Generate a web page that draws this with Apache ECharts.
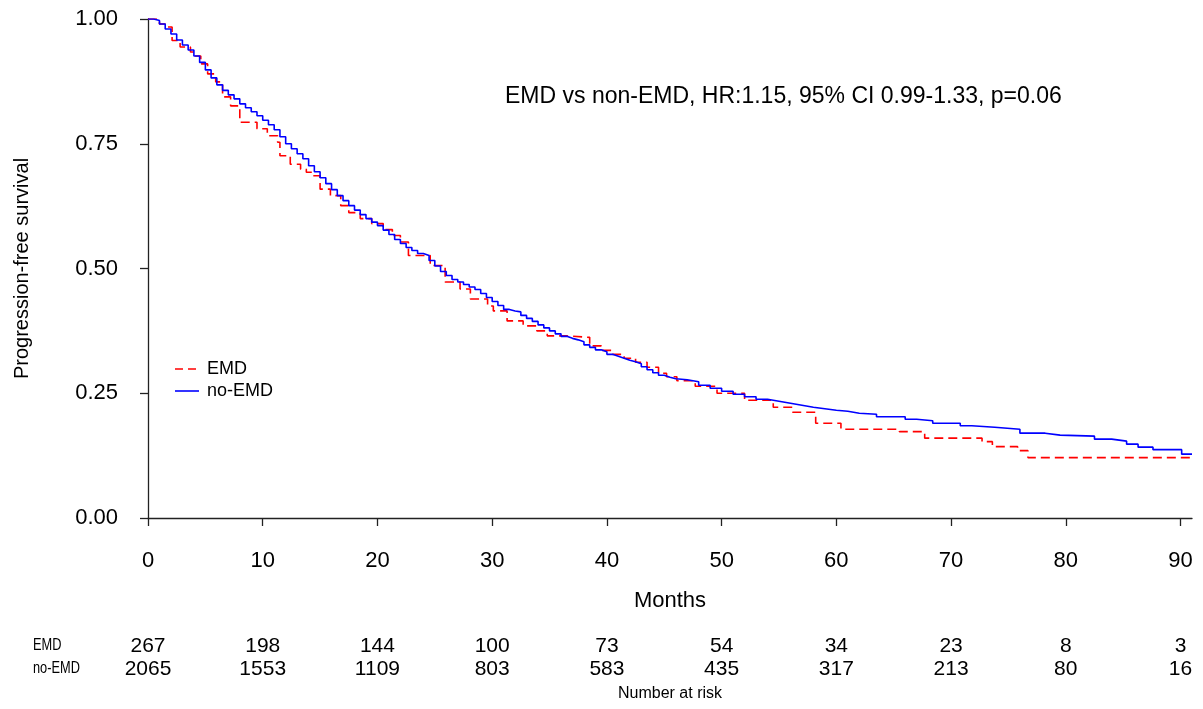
<!DOCTYPE html>
<html>
<head>
<meta charset="utf-8">
<script src="https://cdn.jsdelivr.net/npm/echarts@6/dist/echarts.min.js"></script>
<style>
html, body { margin: 0; padding: 0; background: #fff; }
#chart { width: 1203px; height: 709px; }
</style>
</head>
<body>
<div id="chart"></div>
<script>
// step points (months, survival)
var emdTime = [0, 1.0, 1.5, 2.1, 2.8, 3.7, 4.1, 4.6, 5.2, 5.9, 6.5, 7.2, 8.0, 9.5, 10.4, 11.3, 11.5, 12.4,
    13.3, 13.8, 14.4, 15.0, 15.9, 16.8, 17.5, 18.5, 19.5, 20.5, 21.3, 22.0, 22.7, 24.6, 25.9, 27.2,
    28.1, 29.6, 30.1, 31.3, 32.7, 33.9, 34.8, 36.5, 38.5, 39.5, 40.5, 41.5, 42.5, 43.5, 44.5, 45.2,
    46.1, 47.7, 49.6, 52.0, 54.5, 56.2, 58.2, 60.4, 65.5, 67.7, 72.7, 73.6, 75.8, 76.7, 91];
var emdSurv = [1.0, 0.99, 0.984, 0.957, 0.944, 0.934, 0.926, 0.91, 0.89, 0.874, 0.844, 0.826, 0.793, 0.78,
    0.766, 0.753, 0.726, 0.709, 0.699, 0.693, 0.686, 0.659, 0.646, 0.626, 0.612, 0.6, 0.59, 0.578,
    0.566, 0.553, 0.526, 0.506, 0.473, 0.459, 0.439, 0.425, 0.415, 0.395, 0.385, 0.375, 0.365, 0.362,
    0.345, 0.336, 0.328, 0.32, 0.312, 0.302, 0.29, 0.283, 0.275, 0.264, 0.25, 0.236, 0.222, 0.212,
    0.19, 0.178, 0.173, 0.16, 0.153, 0.143, 0.135, 0.121, 0.121];

var noEmdTime = [0, 0.5, 1.0, 1.5, 2.0, 2.5, 3.0, 3.5, 4.0, 4.5, 5.0, 5.5, 6.0, 6.5, 7.0, 7.5, 8.0, 8.5,
    9.0, 9.5, 10.0, 10.5, 11.0, 11.5, 12.0, 12.5, 13.0, 13.5, 14.0, 14.5, 15.0, 15.5, 16.0, 16.5,
    17.0, 17.5, 18.0, 18.5, 19.0, 19.5, 20.0, 20.5, 21.0, 21.5, 22.0, 22.5, 23.0, 23.5, 24.0, 24.5,
    25.0, 25.5, 26.0, 26.5, 27.0, 27.5, 28.0, 28.5, 29.0, 29.5, 30.0, 30.5, 31.0, 31.5, 32.0, 32.5,
    33.0, 33.5, 34.0, 34.5, 35.0, 35.5, 36.0, 36.5, 37.0, 37.5, 38.0, 38.5, 39.0, 39.5, 40.0, 40.5,
    41.0, 41.5, 42.0, 42.5, 43.0, 43.5, 44.0, 44.5, 45.0, 45.5, 46, 47, 48, 49, 50, 51, 52, 53, 54,
    55, 56, 57, 58, 59, 60, 61, 62, 63.5, 66, 67, 68.4, 70.8, 71.8, 73.8, 76, 78.2, 79.5, 82.5, 84,
    85.3, 86.3, 87.6, 90.1, 91];
var noEmdSurv = [1.0, 0.997, 0.99, 0.98, 0.97, 0.958, 0.948, 0.938, 0.926, 0.913, 0.898, 0.882, 0.868,
    0.857, 0.848, 0.84, 0.83, 0.822, 0.814, 0.806, 0.797, 0.788, 0.778, 0.764, 0.75, 0.74, 0.73, 0.72,
    0.706, 0.694, 0.682, 0.67, 0.658, 0.646, 0.636, 0.626, 0.617, 0.608, 0.6, 0.593, 0.586, 0.577,
    0.568, 0.558, 0.55, 0.542, 0.536, 0.53, 0.526, 0.516, 0.505, 0.494, 0.486, 0.478, 0.473, 0.468,
    0.463, 0.458, 0.45, 0.442, 0.434, 0.426, 0.418, 0.415, 0.413, 0.406, 0.4, 0.394, 0.387, 0.381,
    0.375, 0.369, 0.364, 0.36, 0.357, 0.353, 0.347, 0.342, 0.337, 0.333, 0.328, 0.324, 0.32, 0.316,
    0.313, 0.309, 0.303, 0.297, 0.291, 0.286, 0.282, 0.279, 0.277, 0.273, 0.266, 0.26, 0.254, 0.248,
    0.243, 0.238, 0.234, 0.23, 0.226, 0.222, 0.219, 0.216, 0.214, 0.21, 0.208, 0.203, 0.198, 0.195,
    0.19, 0.185, 0.182, 0.178, 0.17, 0.166, 0.164, 0.158, 0.154, 0.148, 0.142, 0.137, 0.128, 0.128];

var monthTicks = [0, 10, 20, 30, 40, 50, 60, 70, 80, 90];
var emdRisk = [267, 198, 144, 100, 73, 54, 34, 23, 8, 3];
var noEmdRisk = [2065, 1553, 1109, 803, 583, 435, 317, 213, 80, 16];

function pairs(t, s) {
    return t.map(function (v, i) { return [v, s[i]]; });
}

var font = '"Liberation Sans", Arial, sans-serif';
var red = '#ff0000';
var blue = '#0000ff';
var myChart = echarts.init(document.getElementById('chart'));

var option = {
    animation: false,
    textStyle: { fontFamily: font, color: '#000' },
    grid: { left: 148, right: 11, top: 19, bottom: 191 },
    xAxis: {
        type: 'value',
        min: 0,
        max: 91,
        name: 'Months',
        nameLocation: 'middle',
        nameGap: 72,
        nameTextStyle: { fontSize: 22, color: '#000' },
        axisLine: { lineStyle: { color: '#222', width: 1.3 } },
        axisTick: { length: 8, customValues: monthTicks, lineStyle: { color: '#222', width: 1.3 } },
        axisLabel: { customValues: monthTicks, fontSize: 22, margin: 32, color: '#000' },
        splitLine: { show: false }
    },
    yAxis: {
        type: 'value',
        min: 0,
        max: 1,
        interval: 0.25,
        name: 'Progression-free survival',
        nameLocation: 'middle',
        nameGap: 116,
        nameTextStyle: { fontSize: 20, color: '#000' },
        axisLine: { show: true, lineStyle: { color: '#222', width: 1.3 } },
        axisTick: { show: true, length: 8, lineStyle: { color: '#222', width: 1.3 } },
        axisLabel: {
            fontSize: 22,
            margin: 30,
            color: '#000',
            formatter: function (v) { return v.toFixed(2); }
        },
        splitLine: { show: false }
    },
    series: [
        {
            name: 'EMD',
            type: 'line',
            step: 'end',
            symbol: 'none',
            data: pairs(emdTime, emdSurv),
            color: red,
            lineStyle: { color: red, width: 1.6, type: [9, 5] }
        },
        {
            name: 'no-EMD',
            type: 'line',
            step: 'end',
            symbol: 'none',
            data: pairs(noEmdTime, noEmdSurv),
            color: blue,
            lineStyle: { color: blue, width: 1.6 }
        }
    ]
};
myChart.setOption(option);

/**
 * legend, annotation and number-at-risk table
 */
var graphics = [
    {
        type: 'text', x: 505, y: 97,
        style: { text: 'EMD vs non-EMD, HR:1.15, 95% CI 0.99-1.33, p=0.06', font: '23px ' + font, fill: '#000', verticalAlign: 'middle' }
    },
    { type: 'line', shape: { x1: 175, y1: 369, x2: 199, y2: 369 }, style: { stroke: red, lineWidth: 1.6, lineDash: [8, 5] } },
    { type: 'text', x: 207, y: 369, style: { text: 'EMD', font: '18px ' + font, fill: '#000', verticalAlign: 'middle' } },
    { type: 'line', shape: { x1: 175, y1: 391, x2: 199, y2: 391 }, style: { stroke: blue, lineWidth: 1.6 } },
    { type: 'text', x: 207, y: 391, style: { text: 'no-EMD', font: '18px ' + font, fill: '#000', verticalAlign: 'middle' } },
    { type: 'text', x: 33, y: 646, scaleX: 0.8, style: { text: 'EMD', font: '16px ' + font, fill: '#000', verticalAlign: 'middle' } },
    { type: 'text', x: 33, y: 669, scaleX: 0.8, style: { text: 'no-EMD', font: '16px ' + font, fill: '#000', verticalAlign: 'middle' } }
];
monthTicks.forEach(function (t, i) {
    var px = myChart.convertToPixel({ xAxisIndex: 0 }, t);
    graphics.push({ type: 'text', x: px, y: 646, style: { text: String(emdRisk[i]), font: '21px ' + font, fill: '#000', align: 'center', verticalAlign: 'middle' } });
    graphics.push({ type: 'text', x: px, y: 669, style: { text: String(noEmdRisk[i]), font: '21px ' + font, fill: '#000', align: 'center', verticalAlign: 'middle' } });
});
graphics.push({
    type: 'text', x: myChart.convertToPixel({ xAxisIndex: 0 }, 45.5), y: 694,
    style: { text: 'Number at risk', font: '16px ' + font, fill: '#000', align: 'center', verticalAlign: 'middle' }
});
myChart.setOption({ graphic: graphics });
</script>
</body>
</html>
